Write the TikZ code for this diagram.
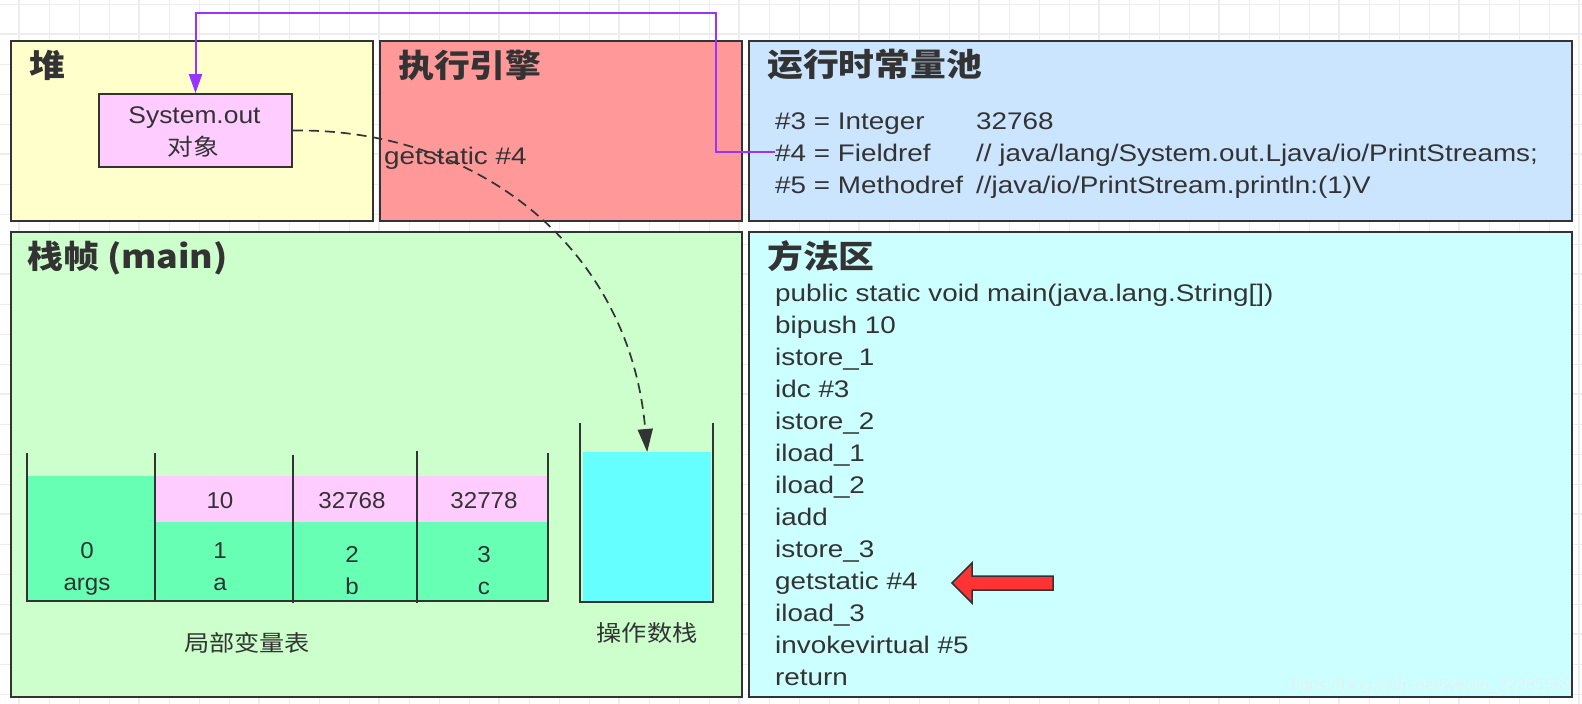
\documentclass[tikz,border=0pt]{standalone}
\usepackage{fontspec}
\setmainfont{Liberation Sans}[FakeStretch=1.16]
\newfontfamily\objfont{Liberation Sans}[FakeStretch=1.1]
\newfontfamily\cellfont{Liberation Sans}[FakeStretch=1.05]
\newfontfamily\cjk{Noto Sans CJK SC}[FakeStretch=1.12]
\newfontfamily\cjkt{Noto Sans CJK SC}[FakeStretch=1.12]
\newfontfamily\wmfont{Liberation Sans}
\usetikzlibrary{arrows.meta}
\definecolor{linec}{HTML}{333333}
\definecolor{txt}{HTML}{333333}
\definecolor{heapc}{HTML}{FFFFCC}
\definecolor{execc}{HTML}{FF9999}
\definecolor{poolc}{HTML}{CCE5FF}
\definecolor{stackc}{HTML}{CCFFCC}
\definecolor{methc}{HTML}{CCFFFF}
\definecolor{objc}{HTML}{FFCCFF}
\definecolor{grnc}{HTML}{66FFB3}
\definecolor{cyanc}{HTML}{66FFFF}
\definecolor{redc}{HTML}{FF3333}
\definecolor{purc}{HTML}{9933FF}
\definecolor{gridc}{HTML}{EDEDED}
\definecolor{wmc}{HTML}{E4F2F2}
\begin{document}
\begin{tikzpicture}[x=1pt,y=-1pt,
  container/.style={draw=linec, line width=1.6pt},
  ttl/.style={anchor=base west, inner sep=0pt, text=txt, font=\cjkt\bfseries\fontsize{32}{36}\selectfont},
  code/.style={anchor=base west, inner sep=0pt, text=txt, font=\fontsize{24}{28}\selectfont},
  cell/.style={anchor=base, inner sep=0pt, text=txt, font=\cellfont\fontsize{23}{26}\selectfont},
  cjktext/.style={anchor=base, inner sep=0pt, text=txt, font=\cjk\fontsize{22.5}{26}\selectfont},
  wall/.style={draw=linec, line width=2pt},
  purline/.style={draw=purc, line width=2pt, -{Triangle[length=19pt,width=13pt]}},
  dashline/.style={draw=linec, line width=1.7pt, dash pattern=on 10pt off 6pt, -{Triangle[length=23pt,width=15pt]}},
]
\useasboundingbox (0,0) rectangle (1582,704);
\fill[white] (0,0) rectangle (1582,704);
% grid
\foreach \gx in {19.3,49.3,...,1582} {\draw[gridc, line width=1pt] (\gx,0) -- (\gx,704);}
\foreach \gy in {4.3,34.3,...,704} {\draw[gridc, line width=1pt] (0,\gy) -- (1582,\gy);}
\foreach \gx in {19.3,139.3,...,1582} {\draw[gridc, line width=2pt] (\gx,0) -- (\gx,704);}
\foreach \gy in {34.3,154.3,...,704} {\draw[gridc, line width=2pt] (0,\gy) -- (1582,\gy);}

% containers
\draw[container, fill=heapc] (11,41) rectangle (373,221);
\draw[container, fill=execc] (380,41) rectangle (742,221);
\draw[container, fill=poolc] (749,41) rectangle (1572,221);
\draw[container, fill=stackc] (11,232) rectangle (742,697);
\draw[container, fill=methc] (749,232) rectangle (1572,697);

% titles
\node[ttl] (t1) at (29,77) {堆};
\node[ttl] (t2) at (398,77) {执行引擎};
\node[ttl] (t3) at (767,76) {运行时常量池};
\node[ttl] (t4) at (27,268) {栈帧 (main)};
\node[ttl] (t5) at (767,268) {方法区};

% heap object
\node[draw=linec, line width=1.6pt, fill=objc, minimum width=193pt, minimum height=73pt, inner sep=0pt] (obj) at (195.5,130.5) {};
\node[anchor=base, inner sep=0pt, text=txt, font=\objfont\fontsize{24}{26}\selectfont] (objt1) at (194.5,123.3) {System.out};
\node[anchor=base, inner sep=0pt, text=txt, font=\cjk\fontsize{23}{26}\selectfont] (objt2) at (193.5,155) {对象};

% execution engine label
\node[code] (gs) at (384,164) {getstatic \#4};

% constant pool
\node[code] (p3) at (775,129) {\#3 = Integer};
\node[code] (p4) at (775,161) {\#4 = Fieldref};
\node[code] (p5) at (775,193) {\#5 = Methodref};
\node[code] (q3) at (976,129) {32768};
\node[code] (q4) at (976,161) {// java/lang/System.out.Ljava/io/PrintStreams;};
\node[code] (q5) at (976,193) {//java/io/PrintStream.println:(1)V};

% method area
\foreach \txtline [count=\i from 0] in {public static void main(java.lang.String[]),bipush 10,istore\_1,idc \#3,istore\_2,iload\_1,iload\_2,iadd,istore\_3,getstatic \#4,iload\_3,invokevirtual \#5,return} {
  \node[code] (m\i) at (775,301.6+31.95*\i) {\txtline};
}

% red arrow
\draw[draw=linec, line width=1.5pt, fill=redc, line join=miter] (952,583) -- (972,563) -- (972,576) -- (1053,576) -- (1053,590) -- (972,590) -- (972,603) -- cycle;

% local variable table
\fill[grnc] (28,476) rectangle (155,601);
\fill[grnc] (155,522) rectangle (549,601);
\fill[objc] (155,476) rectangle (549,522);
\draw[wall] (27,453) -- (27,602);
\draw[wall] (155,453) -- (155,602);
\draw[wall] (293,455) -- (293,603);
\draw[wall] (417,451) -- (417,603);
\draw[wall] (548,453) -- (548,602);
\draw[wall] (26,601) -- (549,601);

\node[cell] (v10) at (220,508) {10};
\node[cell] (v32768) at (352,508) {32768};
\node[cell] (v32778) at (484,508) {32778};
\node[cell] (i0) at (87,558) {0};
\node[cell] (n0) at (87,590) {args};
\node[cell] (i1) at (220,558) {1};
\node[cell] (n1) at (220,590) {a};
\node[cell] (i2) at (352,562) {2};
\node[cell] (n2) at (352,594) {b};
\node[cell] (i3) at (484,562) {3};
\node[cell] (n3) at (484,594) {c};
\node[cjktext] (lvt) at (247,651) {局部变量表};

% operand stack
\node[fill=cyanc, minimum width=128pt, minimum height=149pt, inner sep=0pt, anchor=north west] (opfill) at (583,452) {};
\draw[wall] (580,423) -- (580,603);
\draw[wall] (713,423) -- (713,603);
\draw[wall] (579,602) -- (714,602);
\node[cjktext] (ops) at (647,641) {操作数栈};

% connectors
\draw[purline] (p4.west) -| (716,13) -| (obj.north);
\draw[dashline] (obj.east) .. controls (480,128) and (630,250) .. (opfill.north);

% watermark
\node[anchor=base east, inner sep=0pt, text=wmc, font=\wmfont\fontsize{16.5}{20}\selectfont] (wm) at (1572,690) {https://blog.csdn.net/weixin\_32265569};
\end{tikzpicture}
\end{document}
